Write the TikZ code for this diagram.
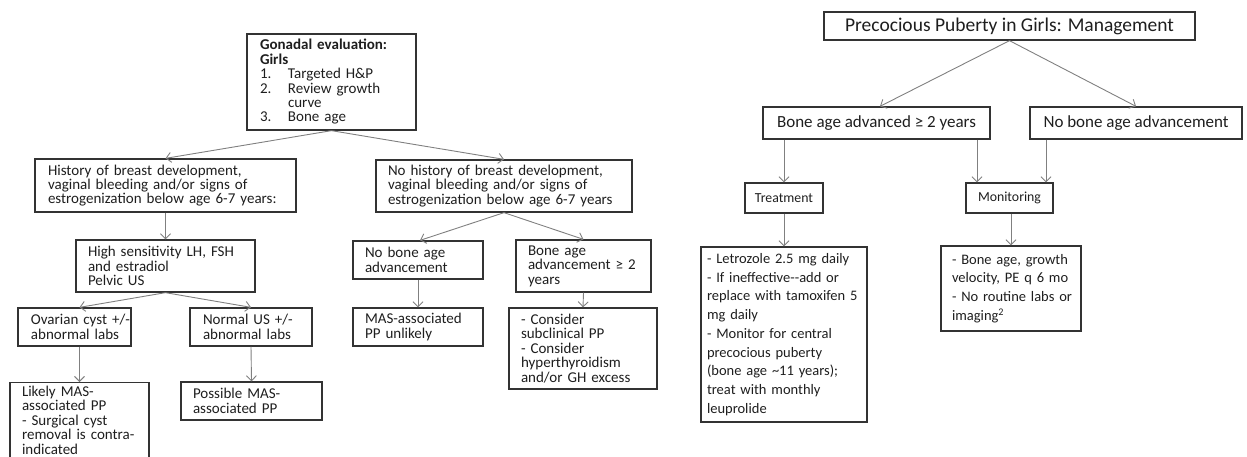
\documentclass[tikz,border=0pt]{standalone}
\usepackage{fontspec}
\setmainfont{Carlito}
\usetikzlibrary{arrows.meta,calc}

\definecolor{boxc}{HTML}{333333}
\definecolor{arrc}{HTML}{808080}
\definecolor{txt}{HTML}{1E1E1E}

% font sizes for the two charts
\newcommand\leftfnt{\fontsize{15}{14.4}\selectfont}
\newcommand\titlefnt{\fontsize{19.5}{22}\selectfont}
\newcommand\bigfnt{\fontsize{17}{20}\selectfont}
\newcommand\midfnt{\fontsize{13.8}{16}\selectfont}
\newcommand\listfnt{\fontsize{14.5}{18.7}\selectfont}

\begin{document}
\begin{tikzpicture}[x=1pt,y=-1pt,
  % text box: #1 = box width, #2 = left padding of the text
  lbox/.style 2 args={draw=boxc, line width=1.3pt, text=txt,
    inner xsep=0pt, inner ysep=4pt, font=\leftfnt, text width=#1pt,
    execute at begin node={\raggedright\leftskip=#2pt\relax}},
  cbox/.style={draw=boxc, line width=1.3pt, text=txt, align=center,
    inner sep=0pt},
  arr/.style={draw=arrc, line width=0.9pt,
    -{Straight Barb[length=5pt,width=10pt]}}]
\useasboundingbox (0,0) rectangle (1247,456);

% ---------- Gonadal evaluation chart ----------
\node[lbox={169}{13}, minimum height=96pt] (gon) at (331.5,82)
  {\textbf{Gonadal evaluation:}\\
   \textbf{Girls}\\
   \makebox[28pt][l]{1.}Targeted H\&P\\
   \makebox[28pt][l]{2.}Review growth\\
   \hspace*{28pt}curve\\
   \makebox[28pt][l]{3.}Bone age};

\node[lbox={261}{13}, minimum height=53pt] (hist) at (165.5,185.5)
  {History of breast development,\\
   vaginal bleeding and/or signs of\\
   estrogenization below age 6-7 years:};

\node[lbox={256}{12}, minimum height=52pt] (nohist) at (504,186)
  {No history of breast development,\\
   vaginal bleeding and/or signs of\\
   estrogenization below age 6-7 years};

\node[lbox={179}{12}, minimum height=52pt] (hs) at (165.5,266)
  {High sensitivity LH, FSH\\ and estradiol\\ Pelvic US};

\node[lbox={113}{13}, minimum height=38pt] (ov) at (74.5,327)
  {Ovarian~cyst~+/-\\ abnormal labs};

\node[lbox={122}{13}, minimum height=38pt] (nus) at (251,327)
  {Normal~US~+/-\\ abnormal labs};

\node[lbox={139}{12}, inner ysep=3.5pt, anchor=north] (likely) at (79.5,382)
  {Likely MAS-\\ associated PP\\ - Surgical cyst\\ removal is contra-\\ indicated};

\node[lbox={141}{12}, minimum height=38pt] (poss) at (251.5,401)
  {Possible MAS-\\ associated PP};

\node[lbox={130}{12}, minimum height=38pt] (nobone) at (418,260)
  {No bone age\\ advancement};

\node[lbox={135}{12}, minimum height=52pt] (boneadv) at (583.5,266)
  {Bone age\\ advancement~≥~2\\ years};

\node[lbox={130}{12}, minimum height=38pt] (mas) at (418,327)
  {MAS-associated\\ PP unlikely};

\node[lbox={148}{12}, minimum height=81pt] (consider) at (583,348.5)
  {- Consider\\ subclinical PP\\ - Consider\\ hyperthyroidism\\ and/or GH excess};

\draw[arr] (gon.south) -- (hist.north);
\draw[arr] (gon.south) -- (nohist.north);
\draw[arr] (hist.south) -- (hs.north);
\draw[arr] (hs.south) -- ([xshift=5pt]ov.north);
\draw[arr] (hs.south) -- (nus.north);
\draw[arr] (ov.south -| likely.north) -- (likely.north);
\draw[arr] (nus.south) -- (poss.north);
\draw[arr] (nohist.south) -- ([xshift=2pt]nobone.north);
\draw[arr] (nohist.south) -- (boneadv.north);
\draw[arr] (nobone.south) -- (mas.north);
\draw[arr] (boneadv.south) -- (consider.north);

% ---------- Management chart ----------
\node[cbox, font=\titlefnt, minimum width=371pt, minimum height=28pt] (title) at (1009.5,26)
  {Precocious Puberty in Girls: Management};
\node[cbox, font=\bigfnt, minimum width=227pt, minimum height=32pt] (ba) at (876.5,123)
  {Bone age advanced ≥ 2 years};
\node[cbox, font=\bigfnt, minimum width=212pt, minimum height=32pt] (nba) at (1136,123)
  {No bone age advancement};
\node[cbox, font=\midfnt, minimum width=78pt, minimum height=30pt] (treat) at (784,198)
  {Treatment};
\node[cbox, font=\midfnt, minimum width=87pt, minimum height=30pt] (mon) at (1009.5,198)
  {Monitoring};

\node[lbox={166}{6}, font=\listfnt, minimum height=175pt] (letro) at (784,334.5)
  {- Letrozole 2.5 mg daily\\
   - If ineffective-{}-add or\\
   replace with tamoxifen 5\\
   mg daily\\
   - Monitor for central\\
   precocious puberty\\
   (bone age \textasciitilde11 years);\\
   treat with monthly\\
   leuprolide};

\node[lbox={140}{11}, font=\listfnt, minimum height=85pt] (monbox) at (1011,288.5)
  {- Bone age, growth\\
   velocity, PE q 6 mo\\
   - No routine labs or\\
   imaging\textsuperscript{2}};

\coordinate (m1) at ([xshift=-32.5pt]mon.north);
\coordinate (m2) at ([xshift=36.5pt]mon.north);

\draw[arr] (title.south) -- ([xshift=3.5pt]ba.north);
\draw[arr] (title.south) -- (nba.north);
\draw[arr] (ba.south -| treat.north) -- (treat.north);
\draw[arr] (ba.south -| m1) -- (m1);
\draw[arr] (nba.south -| m2) -- (m2);
\draw[arr] (treat.south) -- (letro.north);
\draw[arr] (mon.south -| monbox.north) -- (monbox.north);
\end{tikzpicture}
\end{document}
